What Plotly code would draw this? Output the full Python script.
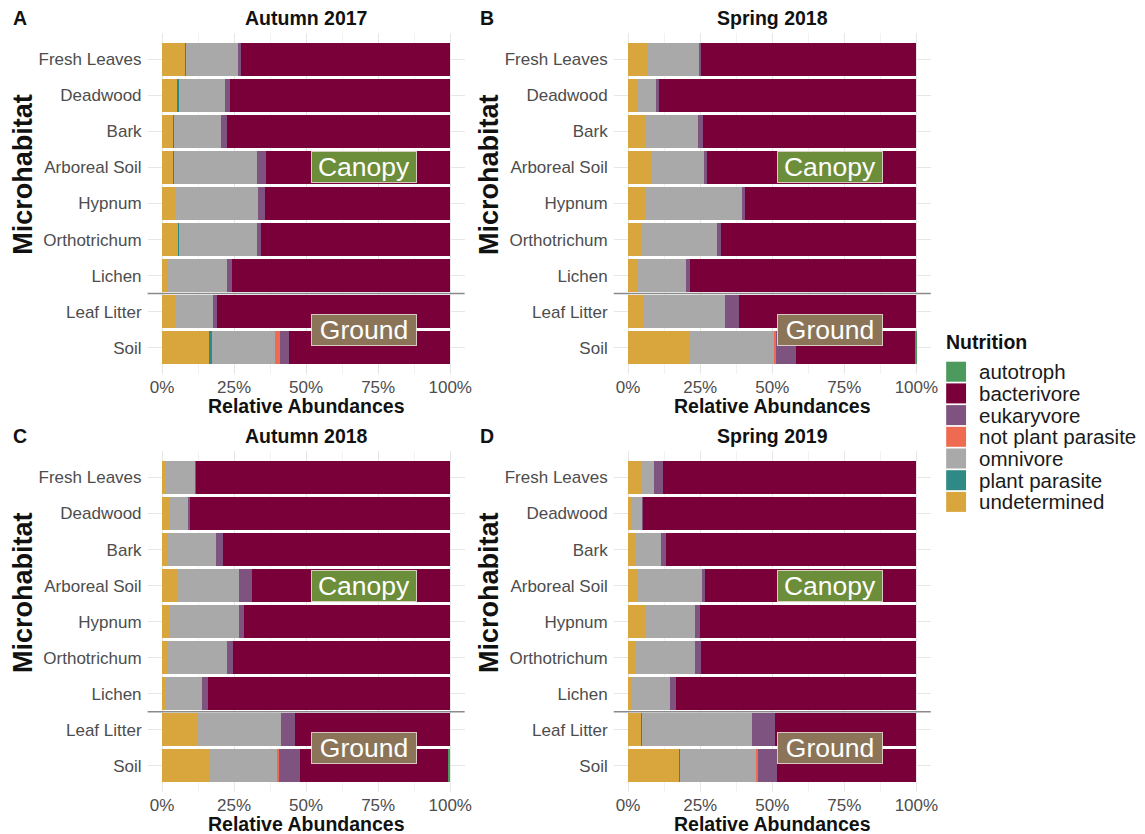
import plotly.graph_objects as go

W, H = 1145, 834
FONT = "Liberation Sans, Arial, sans-serif"

habitats = ["Fresh Leaves", "Deadwood", "Bark", "Arboreal Soil", "Hypnum",
            "Orthotrichum", "Lichen", "Leaf Litter", "Soil"]

# stacking order, left to right
nutrition = ["undetermined", "plant parasite", "omnivore", "not plant parasite",
             "eukaryvore", "bacterivore", "autotroph"]
legend_order = ["autotroph", "bacterivore", "eukaryvore", "not plant parasite",
                "omnivore", "plant parasite", "undetermined"]
colors = {
    "autotroph": "#4c9a5d",
    "bacterivore": "#7a003a",
    "eukaryvore": "#7f5380",
    "not plant parasite": "#ee6b52",
    "omnivore": "#a9a9a9",
    "plant parasite": "#2f8a85",
    "undetermined": "#d8a63d",
}

# ---- Autumn 2017 (abundance shares per microhabitat, %) ----
a17_undetermined = [7.9, 5.4, 3.9, 3.7, 4.8, 5.7, 2.2, 4.8, 16.4]
a17_plant_parasite = [0.4, 0.4, 0.4, 0.5, 0.2, 0.2, 0.0, 0.2, 1.0]
a17_omnivore = [18.1, 16.2, 16.3, 28.7, 28.3, 27.0, 20.2, 12.7, 21.8]
a17_not_plant_parasite = [0, 0, 0, 0, 0, 0, 0, 0, 1.7]
a17_eukaryvore = [1.0, 1.5, 2.1, 3.3, 2.5, 1.5, 2.0, 1.5, 3.1]
a17_bacterivore = [72.6, 76.5, 77.3, 63.8, 64.2, 65.6, 75.6, 80.8, 56.0]
a17_autotroph = [0, 0, 0, 0, 0, 0, 0, 0, 0]

# ---- Spring 2018 ----
s18_undetermined = [6.6, 3.1, 6.0, 8.3, 6.0, 4.8, 3.1, 5.2, 21.5]
s18_plant_parasite = [0, 0, 0, 0, 0, 0, 0, 0, 0]
s18_omnivore = [18.1, 6.7, 18.1, 18.1, 33.4, 26.1, 17.0, 28.5, 29.2]
s18_not_plant_parasite = [0, 0, 0, 0, 0, 0, 0, 0, 0.7]
s18_eukaryvore = [0.7, 0.8, 2.0, 0.8, 1.2, 1.4, 1.4, 4.9, 6.9]
s18_bacterivore = [74.6, 89.4, 73.9, 72.8, 59.4, 67.7, 78.5, 61.4, 41.4]
s18_autotroph = [0, 0, 0, 0, 0, 0, 0, 0, 0.3]

# ---- Autumn 2018 ----
a18_undetermined = [1.0, 2.5, 2.2, 5.7, 2.9, 1.9, 0.9, 12.6, 16.5]
a18_plant_parasite = [0, 0, 0, 0, 0, 0, 0, 0, 0]
a18_omnivore = [10.4, 6.7, 16.4, 20.9, 23.7, 20.8, 13.1, 28.6, 23.6]
a18_not_plant_parasite = [0, 0, 0, 0, 0, 0, 0, 0, 0.5]
a18_eukaryvore = [0.3, 0.4, 2.5, 4.6, 1.7, 2.1, 2.1, 4.9, 7.3]
a18_bacterivore = [88.3, 90.4, 78.9, 68.8, 71.7, 75.2, 83.9, 53.9, 51.5]
a18_autotroph = [0, 0, 0, 0, 0, 0, 0, 0, 0.6]

# ---- Spring 2019 ----
s19_undetermined = [4.8, 0.9, 2.6, 3.3, 6.3, 2.9, 1.3, 4.6, 17.7]
s19_plant_parasite = [0, 0, 0, 0, 0, 0, 0, 0.2, 0.3]
s19_omnivore = [4.3, 4.0, 8.9, 22.3, 17.0, 20.4, 13.3, 38.3, 26.3]
s19_not_plant_parasite = [0, 0, 0, 0, 0, 0, 0, 0, 0.6]
s19_eukaryvore = [3.0, 0.4, 1.5, 1.2, 1.6, 2.0, 2.1, 7.8, 6.8]
s19_bacterivore = [87.9, 94.7, 87.0, 73.2, 75.1, 74.7, 83.3, 49.1, 48.3]
s19_autotroph = [0, 0, 0, 0, 0, 0, 0, 0, 0]

seasons = [
    ("A", "Autumn 2017", [a17_undetermined, a17_plant_parasite, a17_omnivore,
                          a17_not_plant_parasite, a17_eukaryvore, a17_bacterivore,
                          a17_autotroph]),
    ("B", "Spring 2018", [s18_undetermined, s18_plant_parasite, s18_omnivore,
                          s18_not_plant_parasite, s18_eukaryvore, s18_bacterivore,
                          s18_autotroph]),
    ("C", "Autumn 2018", [a18_undetermined, a18_plant_parasite, a18_omnivore,
                          a18_not_plant_parasite, a18_eukaryvore, a18_bacterivore,
                          a18_autotroph]),
    ("D", "Spring 2019", [s19_undetermined, s19_plant_parasite, s19_omnivore,
                          s19_not_plant_parasite, s19_eukaryvore, s19_bacterivore,
                          s19_autotroph]),
]

# panel boxes in pixels: (left, right, top, bottom)
boxes = [(148.5, 467.5, 33, 374), (617.5, 936.5, 33, 374),
         (148.5, 467.5, 451.2, 792), (617.5, 936.5, 451.2, 792)]


def px_x(v):
    return v / W


def px_y(v):
    return 1 - v / H


fig = go.Figure()
annotations = []
shapes = []

for i, ((letter, title, series), (l, r, t, b)) in enumerate(zip(seasons, boxes)):
    n = "" if i == 0 else str(i + 1)
    xa, ya = "x" + n, "y" + n
    totals = [sum(vals) for vals in zip(*series)]
    for name, vals in zip(nutrition, series):
        share = [100.0 * v / tot for v, tot in zip(vals, totals)]
        fig.add_trace(go.Bar(
            y=habitats, x=share, orientation="h", name=name,
            marker=dict(color=colors[name], line=dict(width=0)),
            width=0.9, showlegend=False, xaxis=xa, yaxis=ya,
            hovertemplate="%{y}: %{x:.1f}%<extra>" + name + "</extra>",
        ))

    grid = "#e6e6e6"
    fig.update_layout(**{
        "xaxis" + n: dict(
            domain=[px_x(l), px_x(r)], anchor=ya, range=[-5, 105],
            tickvals=[0, 25, 50, 75, 100],
            ticktext=["0%", "25%", "50%", "75%", "100%"],
            showgrid=True, gridcolor=grid, gridwidth=1,
            minor=dict(tickvals=[12.5, 37.5, 62.5, 87.5], showgrid=True,
                       gridcolor="#f2f2f2", gridwidth=1),
            zeroline=False, showline=False, ticks="",
            tickfont=dict(size=17, color="#4d4d4d", family=FONT),
            ticklabelstandoff=1, fixedrange=True,
        ),
        "yaxis" + n: dict(
            domain=[px_y(b), px_y(t)], anchor=xa, type="category",
            categoryorder="array", categoryarray=habitats[::-1],
            range=[-0.73, 8.73],
            showgrid=True, gridcolor=grid, gridwidth=1,
            zeroline=False, showline=False, ticks="",
            tickfont=dict(size=17, color="#4d4d4d", family=FONT),
            ticklabelstandoff=5, fixedrange=True,
        ),
    })

    cx = (l + r) / 2
    # panel title and letter
    annotations.append(dict(text="<b>" + title + "</b>", x=px_x(cx), y=px_y(t - 15),
                            xref="paper", yref="paper", showarrow=False,
                            font=dict(size=19.5, color="#111111", family=FONT),
                            xanchor="center", yanchor="middle"))
    annotations.append(dict(text="<b>" + letter + "</b>", x=px_x(l - 137), y=px_y(t - 15),
                            xref="paper", yref="paper", showarrow=False,
                            font=dict(size=19.5, color="#111111", family=FONT),
                            xanchor="left", yanchor="middle"))
    # axis titles
    annotations.append(dict(text="<b>Relative Abundances</b>", x=px_x(cx), y=px_y(b + 32),
                            xref="paper", yref="paper", showarrow=False,
                            font=dict(size=19.5, color="#111111", family=FONT),
                            xanchor="center", yanchor="middle"))
    annotations.append(dict(text="<b>Microhabitat</b>", x=px_x(l - 126), y=px_y((t + b) / 2 - 29),
                            xref="paper", yref="paper", showarrow=False, textangle=-90,
                            font=dict(size=27, color="#111111", family=FONT),
                            xanchor="center", yanchor="middle"))
    # canopy / ground labels
    annotations.append(dict(text="Canopy", x=70, y="Arboreal Soil", xref=xa, yref=ya,
                            showarrow=False, bgcolor="#6c8d39", width=104,
                            bordercolor="rgba(235,240,225,0.8)", borderwidth=1, borderpad=0,
                            font=dict(size=26.5, color="white", family=FONT)))
    annotations.append(dict(text="Ground", x=70, y=0.5, xref=xa, yref=ya,
                            showarrow=False, bgcolor="#8b7457", width=104,
                            bordercolor="rgba(240,235,225,0.8)", borderwidth=1, borderpad=0,
                            font=dict(size=26.5, color="white", family=FONT)))
    # separator between canopy and ground microhabitats
    shapes.append(dict(type="line", xref=xa + " domain", yref=ya, x0=0, x1=1,
                       y0=1.5, y1=1.5, line=dict(color="#8a8a8a", width=1.5),
                       layer="above"))

# legend
annotations.append(dict(text="<b>Nutrition</b>", x=px_x(950), y=px_y(342),
                        xref="paper", yref="paper", showarrow=False,
                        xanchor="left", yanchor="middle",
                        font=dict(size=19.5, color="#111111", family=FONT)))
for k, name in enumerate(legend_order):
    yc = 371.7 + 21.7 * k
    shapes.append(dict(type="rect", xref="paper", yref="paper",
                       x0=px_x(952), x1=px_x(972), y0=px_y(yc - 10), y1=px_y(yc + 10),
                       fillcolor=colors[name], line=dict(width=0)))
    annotations.append(dict(text=name, x=px_x(983), y=px_y(yc), xref="paper", yref="paper",
                            showarrow=False, xanchor="left", yanchor="middle",
                            font=dict(size=20.5, color="#1a1a1a", family=FONT)))

fig.update_layout(
    width=W, height=H, margin=dict(l=0, r=0, t=0, b=0),
    barmode="stack", paper_bgcolor="white", plot_bgcolor="white",
    showlegend=False, annotations=annotations, shapes=shapes,
    font=dict(family=FONT),
)

fig.write_html("out.html")
